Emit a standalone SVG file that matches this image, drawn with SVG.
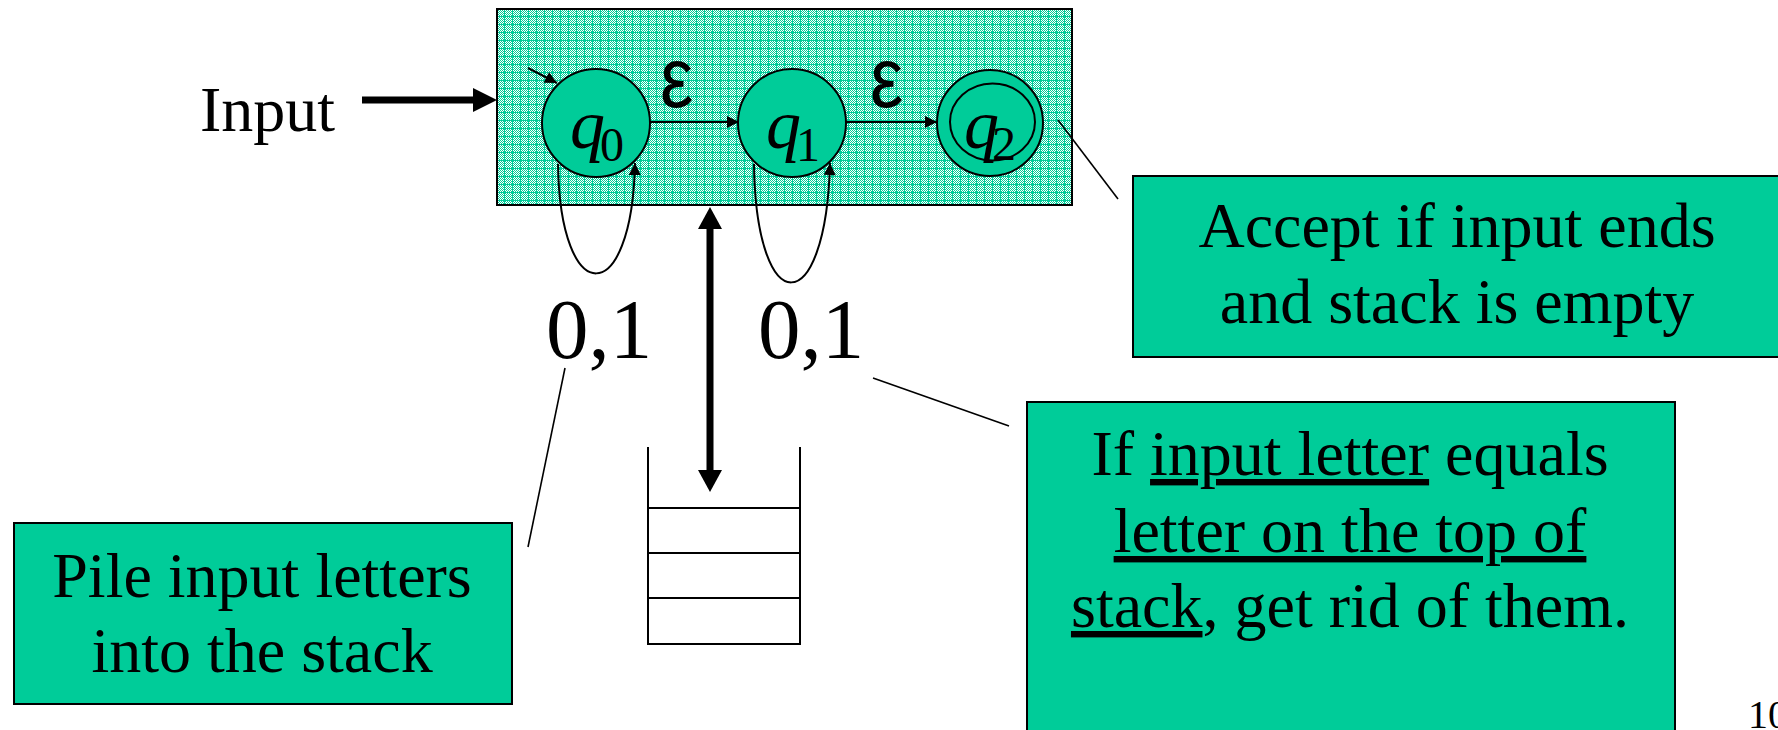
<svg xmlns="http://www.w3.org/2000/svg" width="1778" height="730" viewBox="0 0 1778 730">
<style>
.t{font-family:"Liberation Serif","Times New Roman",serif;font-size:64px;fill:#000}
.c{text-anchor:middle}
.box{fill:#00CC99;stroke:#000;stroke-width:2}
.st{fill:#00CC99;stroke:#000;stroke-width:2}
.thin{stroke:#000;stroke-width:1.6;fill:none}
.ed{stroke:#000;stroke-width:2;fill:none}
.thick{stroke:#000;stroke-width:7;fill:none}
.q{font-family:"Liberation Serif","Times New Roman",serif;font-style:italic;font-size:70px}
.sub{font-family:"Liberation Serif","Times New Roman",serif;font-size:48px}
.eps{font-family:"Liberation Sans",Arial,sans-serif;font-size:86px}
.lbl{font-family:"Liberation Serif","Times New Roman",serif;font-size:85px}
.u{text-decoration:underline}
</style>
<defs>
<pattern id="dither" width="2" height="2" patternUnits="userSpaceOnUse">
<rect width="2" height="2" fill="#ffffff"/>
<rect width="1" height="1" fill="#00CC99"/>
<rect x="1" y="1" width="1" height="1" fill="#00CC99"/>
</pattern>
<pattern id="grid" width="8" height="8" patternUnits="userSpaceOnUse">
<rect width="8" height="8" fill="url(#dither)"/>
<rect width="8" height="1" fill="#00CC99"/>
<rect width="1" height="8" fill="#00CC99"/>
</pattern>
<marker id="ah" viewBox="0 0 10 10" refX="10" refY="5" markerWidth="15" markerHeight="12" markerUnits="userSpaceOnUse" orient="auto">
<path d="M0,0 L10,5 L0,10 z" fill="#000"/>
</marker>
</defs>

<g id="machine">
<rect x="497" y="9" width="575" height="196" fill="url(#grid)" stroke="#000" stroke-width="2"/>
</g>

<g id="input-label">
<text class="t" x="200" y="131">Input</text>
</g>

<g id="q0">
<circle class="st" cx="596" cy="123" r="54"/>
<text class="q" x="570" y="148">q</text><text class="sub" x="600" y="161">0</text>
</g>
<g id="q1">
<circle class="st" cx="792" cy="123" r="54"/>
<text class="q" x="766" y="148">q</text><text class="sub" x="796" y="161">1</text>
</g>
<g id="q2">
<circle class="st" cx="990" cy="123" r="53"/>
<ellipse class="st" cx="992.5" cy="122" rx="42.5" ry="38.5"/>
<text class="q" x="964" y="148">q</text><text class="sub" x="992" y="160">2</text>
</g>

<g id="stack">
<path class="ed" d="M648,447 V644 H800 V447 M648,508 H800 M648,553 H800 M648,598 H800"/>
</g>

<g id="box-pile">
<rect class="box" x="14" y="523" width="498" height="181"/>
<text class="t c" x="262" y="597">Pile input letters</text>
<text class="t c" x="262" y="672">into the stack</text>
</g>

<g id="box-accept">
<rect class="box" x="1133" y="176" width="670" height="181"/>
<text class="t c" x="1457" y="247">Accept if input ends</text>
<text class="t c" x="1457" y="323">and stack is empty</text>
</g>

<g id="box-if">
<rect class="box" x="1027" y="402" width="648" height="360"/>
<text class="t c" x="1350" y="475">If <tspan class="u">input letter</tspan> equals</text>
<text class="t c" x="1350" y="552"><tspan class="u">letter on the top of</tspan></text>
<text class="t c" x="1350" y="627"><tspan class="u">stack</tspan>, get rid of them.</text>
</g>

<g id="page-number">
<text class="t" x="1748" y="728" style="font-size:40px">10</text>
</g>

<g id="connectors">
<line class="thick" x1="362" y1="100" x2="476" y2="100"/>
<polygon points="473,88 497,100 473,112" fill="#000"/>
<line class="thick" x1="710" y1="226" x2="710" y2="473"/>
<polygon points="698,229 710,207 722,229" fill="#000"/>
<polygon points="698,470 710,492 722,470" fill="#000"/>
<path class="ed" d="M528,68 L557,83" marker-end="url(#ah)"/>
<path class="ed" d="M650,122 L739,122" marker-end="url(#ah)"/>
<path class="ed" d="M846,122 L937,122" marker-end="url(#ah)"/>
<path class="ed" d="M558,164 C560,310 632,310 635,163" marker-end="url(#ah)"/>
<path class="ed" d="M754,164 C756,322 826,322 830,163" marker-end="url(#ah)"/>
<line class="thin" x1="1058" y1="120" x2="1118" y2="199"/>
<line class="thin" x1="565" y1="368" x2="528" y2="547"/>
<line class="thin" x1="873" y1="378" x2="1009" y2="426"/>
<text class="eps" transform="translate(660,107) scale(0.87,1)">ε</text>
<text class="eps" transform="translate(870,107) scale(0.87,1)">ε</text>
<text class="lbl" x="546" y="358">0,1</text>
<text class="lbl" x="758" y="358">0,1</text>
</g>
</svg>
